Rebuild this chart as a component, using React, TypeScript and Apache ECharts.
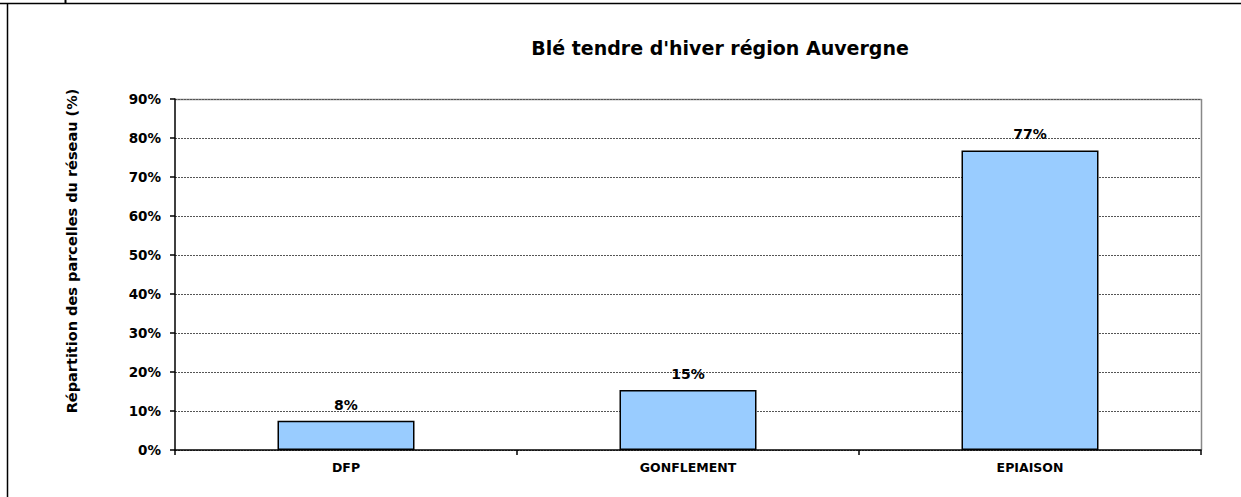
import React, { useEffect, useRef } from "react";
import * as echarts from "echarts";

const categories = ["DFP", "GONFLEMENT", "EPIAISON"];
const values = [7.5, 15.4, 76.8];
const yTicks = [0, 10, 20, 30, 40, 50, 60, 70, 80, 90];
const titleText = "Blé tendre d'hiver région Auvergne";
const yAxisName = "Répartition des parcelles du réseau (%)";

const FONT = "DejaVu Sans, Arial, sans-serif";

export default function App() {
  const ref = useRef<HTMLDivElement>(null);
  useEffect(() => {
    const chart = echarts.init(ref.current!, null, { renderer: "svg" });
    chart.setOption({
      animation: false,
      backgroundColor: "#ffffff",
      textStyle: { fontFamily: FONT },
      title: {
        text: titleText,
        left: 715,
        textAlign: "center",
        top: 33,
        textStyle: { fontSize: 19, fontWeight: "bold", color: "#000", fontFamily: FONT },
      },
      graphic: [
        { type: "line", shape: { x1: 0, y1: 3.5, x2: 1241, y2: 3.5 }, style: { stroke: "#000", lineWidth: 1.5 } },
        { type: "line", shape: { x1: 7.5, y1: 3, x2: 7.5, y2: 497 }, style: { stroke: "#000", lineWidth: 1.5 } },
        { type: "line", shape: { x1: 65.5, y1: 0, x2: 65.5, y2: 3 }, style: { stroke: "#000", lineWidth: 2 } },
        { type: "line", shape: { x1: 175, y1: 99.5, x2: 1201.5, y2: 99.5 }, style: { stroke: "#888", lineWidth: 1.5 } },
        { type: "line", shape: { x1: 1201.5, y1: 99, x2: 1201.5, y2: 450 }, style: { stroke: "#888", lineWidth: 1.5 } },
        {
          type: "text",
          x: 72,
          y: 251,
          rotation: Math.PI / 2,
          style: {
            text: yAxisName,
            fill: "#000",
            fontSize: 14.5,
            fontWeight: "bold",
            fontFamily: FONT,
            textAlign: "center",
            textVerticalAlign: "middle",
          },
        },
      ],
      grid: { left: 175, top: 99, width: 1026, height: 351, containLabel: false },
      xAxis: {
        type: "category",
        data: categories,
        boundaryGap: true,
        axisLine: { lineStyle: { color: "#000", width: 1.5 } },
        axisTick: { show: true, alignWithLabel: false, length: 5, lineStyle: { color: "#000", width: 1.5 } },
        axisLabel: { color: "#000", fontSize: 12.5, fontWeight: "bold", margin: 11, fontFamily: FONT },
        splitLine: { show: false },
      },
      yAxis: {
        type: "value",
        min: 0,
        max: 90,
        interval: 10,
        axisLine: { show: true, lineStyle: { color: "#000", width: 1.5 } },
        axisTick: { show: true, length: 5, lineStyle: { color: "#000", width: 1.5 } },
        axisLabel: {
          color: "#000",
          fontSize: 13.5,
          fontWeight: "bold",
          margin: 14,
          fontFamily: FONT,
          formatter: (v: number) => (yTicks.includes(v) ? v + "%" : ""),
        },
        splitLine: { show: true, lineStyle: { color: "#555", type: [2, 1], width: 1 } },
      },
      series: [
        {
          type: "bar",
          data: values,
          barWidth: 137,
          itemStyle: { color: "#99ccff", borderColor: "#000", borderWidth: 1.5 },
          label: {
            show: true,
            position: "top",
            distance: 9,
            color: "#000",
            fontSize: 14,
            fontWeight: "bold",
            fontFamily: FONT,
            formatter: (p: any) => Math.round(p.value) + "%",
          },
        },
      ],
    });
    return () => chart.dispose();
  }, []);
  return (
    <div
      ref={ref}
      style={{ position: "absolute", left: 0, top: 0, width: 1241, height: 497 }}
    />
  );
}
